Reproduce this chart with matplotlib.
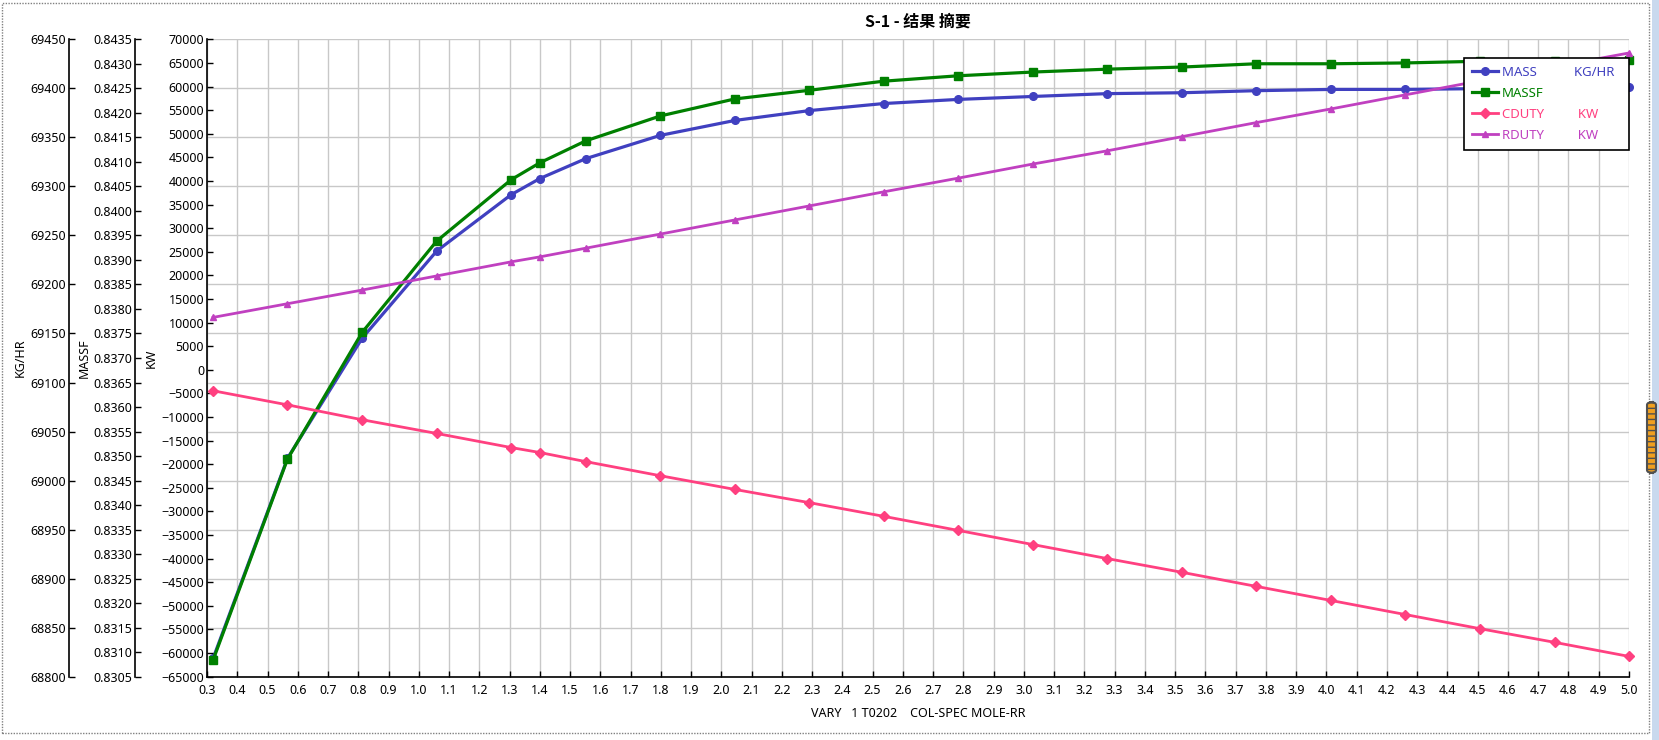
import numpy as np
import matplotlib.pyplot as plt
from matplotlib.patches import Rectangle, FancyBboxPatch
from matplotlib.ticker import MultipleLocator, FormatStrFormatter

plt.rcParams['font.family'] = ['Noto Sans', 'Noto Sans CJK SC', 'DejaVu Sans']
plt.rcParams['font.size'] = 9

# sensitivity results
rr = [0.32, 0.566, 0.813, 1.059, 1.305, 1.4, 1.552, 1.798, 2.044, 2.291, 2.537,
      2.783, 3.029, 3.276, 3.522, 3.768, 4.015, 4.261, 4.507, 4.754, 5.0]
mass = [68818.6, 69022.7, 69145.3, 69234.0, 69291.5, 69308.0, 69328.3, 69352.0,
        69367.2, 69377.3, 69384.5, 69388.7, 69391.7, 69394.6, 69395.5, 69397.6,
        69398.9, 69398.9, 69399.7, 69400.1, 69401.0]
massf = [0.830838, 0.834938, 0.837524, 0.839384, 0.840635, 0.840981, 0.841429,
         0.841936, 0.842283, 0.842460, 0.842646, 0.842756, 0.842832, 0.842891,
         0.842934, 0.843001, 0.843001, 0.843018, 0.843052, 0.843060, 0.843086]
cduty = [-4437, -7422, -10582, -13479, -16463, -17517, -19448, -22432, -25329,
         -28138, -31035, -34019, -37004, -39988, -42885, -45870, -48854, -51839,
         -54823, -57720, -60704]
rduty = [11100, 13996, 16893, 19878, 22862, 23915, 25759, 28743, 31728, 34712,
         37697, 40594, 43578, 46387, 49372, 52356, 55253, 58237, 61200, 64200, 67103]

c_mass = '#4040C0'
c_massf = '#008000'
c_cduty = '#FF4080'
c_rduty = '#C040C0'

W, H = 1659, 740
fig = plt.figure(figsize=(W / 100, H / 100), dpi=100)
x0, x1, y0, y1 = 207, 1629, 39.3, 676.7
ax = fig.add_axes([x0 / W, 1 - y1 / H, (x1 - x0) / W, (y1 - y0) / H])
axf = ax.twinx()
axk = ax.twinx()

for a in (ax, axf, axk):
    a.spines['top'].set_visible(False)
    a.spines['right'].set_visible(False)
    a.spines['bottom'].set_visible(False)
    a.yaxis.set_ticks_position('left')
    a.yaxis.set_label_position('left')
    a.spines['left'].set_visible(True)
    a.spines['left'].set_linewidth(1.2)
    a.tick_params(axis='y', direction='in', length=4, width=1, pad=2, labelsize=9)
ax.spines['bottom'].set_visible(True)
ax.spines['bottom'].set_linewidth(1.2)

ax.spines['left'].set_position(('outward', (x0 - 69) * 0.72))
axf.spines['left'].set_position(('outward', (x0 - 135) * 0.72))

# KG/HR axis (carries the grid)
ax.set_xlim(0.3, 5.0)
ax.xaxis.set_major_locator(MultipleLocator(0.1))
ax.xaxis.set_major_formatter(FormatStrFormatter('%.1f'))
ax.tick_params(axis='x', direction='in', length=4, width=1, pad=5, labelsize=9)
ax.set_ylim(68800, 69450)
ax.yaxis.set_major_locator(MultipleLocator(50))
ax.grid(True, color='#C8C8C8', linewidth=1)
ax.set_axisbelow(True)

axf.set_ylim(0.8305, 0.8435)
axf.yaxis.set_major_locator(MultipleLocator(0.0005))
axf.yaxis.set_major_formatter(FormatStrFormatter('%.4f'))

axk.set_ylim(-65000, 70000)
axk.yaxis.set_major_locator(MultipleLocator(5000))

l1, = ax.plot(rr, mass, color=c_mass, lw=2.3, marker='o', ms=5.5, clip_on=False, zorder=3)
l2, = axf.plot(rr, massf, color=c_massf, lw=2.3, marker='s', ms=6, clip_on=False, zorder=3)
l3, = axk.plot(rr, cduty, color=c_cduty, lw=2.0, marker='D', ms=5, clip_on=False, zorder=3)
l4, = axk.plot(rr, rduty, color=c_rduty, lw=2.0, marker='^', ms=5, clip_on=False, zorder=3)

ax.set_ylabel('KG/HR', fontsize=9)
axf.set_ylabel('MASSF', fontsize=9)
axk.set_ylabel('KW', fontsize=9)
ax.yaxis.set_label_coords((27 - x0) / (x1 - x0), 0.5)
axf.yaxis.set_label_coords((91 - x0) / (x1 - x0), 0.5)
axk.yaxis.set_label_coords((158 - x0) / (x1 - x0), 0.5)

ax.set_xlabel('VARY   1 T0202    COL-SPEC MOLE-RR', fontsize=9)
ax.xaxis.set_label_coords(0.5, -(707 - y1) / (y1 - y0))

fig.text(918 / W, 1 - 22 / H, 'S-1 - 结果 摘要', ha='center', va='center',
         fontsize=11.5, fontweight='bold', family=['Noto Sans CJK SC', 'DejaVu Sans'])

labels = ['MASS           KG/HR  ', 'MASSF', 'CDUTY          KW', 'RDUTY          KW']
leg = axk.legend([l1, l2, l3, l4], labels, loc='upper right',
                 bbox_to_anchor=(1.0, 1 - (58 - y0) / (y1 - y0)), borderaxespad=0,
                 fancybox=False, edgecolor='black', framealpha=1, numpoints=1,
                 handlelength=2.0, handletextpad=0.3, labelspacing=0.6,
                 borderpad=0.6, labelcolor='linecolor', fontsize=9.5)
leg.get_frame().set_linewidth(1.2)
leg.set_zorder(10)

# window frame decorations
fig.add_artist(Rectangle((2 / W, 1 - 733 / H), 1647 / W, 730 / H, transform=fig.transFigure,
                         fill=False, ls=(0, (1, 1)), ec='#808080', lw=1))
fig.add_artist(Rectangle((1652 / W, 0), 7 / W, 1, transform=fig.transFigure,
                         fc='#C9D9EE', ec='none'))
fig.add_artist(FancyBboxPatch((1647 / W, 1 - 473 / H), 9 / W, 71 / H, transform=fig.transFigure,
                              boxstyle='round,pad=0,rounding_size=0.004', fc='#F0A020',
                              ec='#505050', lw=1.5, hatch='---'))

fig.savefig('out.png', dpi=100, facecolor='white')
